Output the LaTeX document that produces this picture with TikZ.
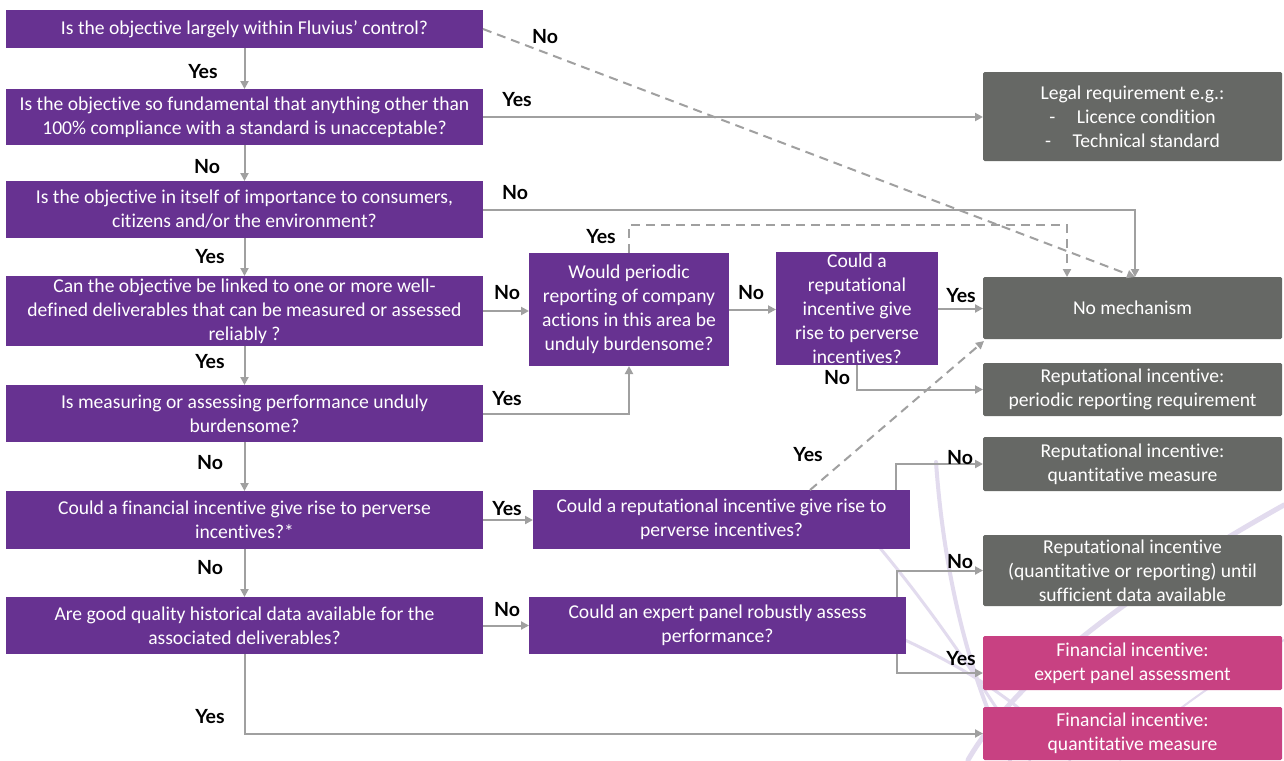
\documentclass[tikz,border=0pt]{standalone}
\usepackage{fontspec}
\setmainfont{Carlito}[Ligatures=NoCommon]
\newfontfamily\labfont{Lato}
\usetikzlibrary{arrows.meta,calc}
\definecolor{qpurple}{RGB}{103,50,145}
\definecolor{qgray}{RGB}{102,104,101}
\definecolor{qpink}{RGB}{200,65,130}
\definecolor{qline}{RGB}{160,160,160}
\definecolor{qlav}{RGB}{226,219,238}
\begin{document}
\begin{tikzpicture}[x=1pt,y=-1pt,
  box/.style={rectangle,inner sep=0pt,outer sep=0pt,text=white,align=center,
    font=\fontsize{19.6}{24}\selectfont},
  qbox/.style={box,fill=qpurple},
  gbox/.style={box,fill=qgray,rounded corners=1.5pt,minimum width=299pt},
  pbox/.style={box,fill=qpink,rounded corners=1.5pt,minimum width=299pt},
  lbox/.style={qbox,minimum width=477pt},
  conn/.style={draw=qline,line width=2pt,-{Triangle[length=8pt,width=8pt]}},
  dconn/.style={conn,dash pattern=on 9pt off 6pt},
  lab/.style={font=\labfont\fontsize{19.5}{21}\selectfont\bfseries,text=black,inner sep=0pt},
  swoosh/.style={draw=qlav,line cap=round}]
\useasboundingbox (0,0) rectangle (1284,760);
\fill[white] (0,0) rectangle (1284,760);
% background swooshes
\draw[swoosh,line width=4pt] (936,462) .. controls (945,590) and (975,690) .. (1010,760);
\draw[swoosh,line width=3pt] (880,548) .. controls (940,620) and (985,690) .. (1030,760);
\draw[swoosh,line width=5pt] (1284,505) .. controls (1150,580) and (1020,670) .. (968,760);
\draw[swoosh,line width=3pt] (905,640) .. controls (990,680) and (1040,720) .. (1070,760);
\draw[swoosh,line width=2pt] (1284,640) .. controls (1200,690) and (1150,730) .. (1120,760);
% left column
\node[lbox,minimum height=38pt] (b1) at (244.5,29) {Is the objective largely within Fluvius’ control?};
\node[lbox,minimum height=56pt] (b2) at (244.5,117) {Is the objective so fundamental that anything other than\\100\% compliance with a standard is unacceptable?};
\node[lbox,minimum height=57pt] (b3) at (244.5,209.5) {Is the objective in itself of importance to consumers,\\citizens and/or the environment?};
\node[lbox,minimum height=70pt] (b4) at (244.5,311) {Can the objective be linked to one or more well-\\defined deliverables that can be measured or assessed\\reliably ?};
\node[lbox,minimum height=57pt] (b5) at (244.5,413.5) {Is measuring or assessing performance unduly\\burdensome?};
\node[lbox,minimum height=58pt] (b6) at (244.5,520) {Could a financial incentive give rise to perverse\\incentives?*};
\node[lbox,minimum height=57pt] (b7) at (244.5,625.5) {Are good quality historical data available for the\\associated deliverables?};
% middle
\node[qbox,minimum width=200pt,minimum height=113pt] (m1) at (629,309.5) {Would periodic\\reporting of company\\actions in this area be\\unduly burdensome?};
\node[qbox,minimum width=162pt,minimum height=113pt] (m2) at (857,308.5) {Could a\\reputational\\incentive give\\rise to perverse\\incentives?};
\node[qbox,minimum width=377pt,minimum height=59pt] (m3) at (721.5,519.5) {Could a reputational incentive give rise to\\perverse incentives?};
\node[qbox,minimum width=377pt,minimum height=57pt] (m4) at (717.5,625.5) {Could an expert panel robustly assess\\performance?};
% right
\node[gbox,minimum height=89pt] (r1) at (1132.5,116.5) {Legal requirement e.g.:\\-\hspace{1.1em}Licence condition\\-\hspace{1.1em}Technical standard};
\node[gbox,minimum height=62pt] (r2) at (1132.5,308) {No mechanism};
\node[gbox,minimum height=53pt] (r3) at (1132.5,389.5) {Reputational incentive:\\periodic reporting requirement};
\node[gbox,minimum height=54pt] (r4) at (1132.5,464) {Reputational incentive:\\quantitative measure};
\node[gbox,minimum height=71pt] (r5) at (1132.5,570.5) {Reputational incentive\\(quantitative or reporting) until\\sufficient data available};
\node[pbox,minimum height=54pt] (r6) at (1132.5,663) {Financial incentive:\\expert panel assessment};
\node[pbox,minimum height=53pt] (r7) at (1132.5,733.5) {Financial incentive:\\quantitative measure};
% coordinates
\coordinate (b1e) at (b1.east);
\coordinate (m3d) at ($(m3.north west)+(277,0)$);
% connectors
\draw[conn] (b1) -- (b2);
\draw[conn] (b2) -- (b3);
\draw[conn] (b3) -- (b4);
\draw[conn] (b4) -- (b5);
\draw[conn] (b5) -- (b6);
\draw[conn] (b6) -- (b7);
\draw[dconn] (b1e) -- ($(r2.north)+(2.5,0)$);
\draw[conn] (b2.east) -- (b2.east -| r1.west);
\draw[conn] (b3.east) -- ($(b3.east -| r2.north)+(2.5,0)$) -- ($(r2.north)+(2.5,0)$);
\draw[conn] (b4.east) -- (b4.east -| m1.west);
\draw[dconn] (m1.north) -- ++(0,-28) -| ($(r2.north)+(-65.5,0)$);
\draw[conn] (b5.east) -| (m1.south);
\draw[conn] (m1.east) -- (m1.east -| m2.west);
\draw[conn] (m2.east) -- (m2.east -| r2.west);
\draw[conn] (m2.south) |- (r3.west);
\draw[conn] (b6.east) -- (b6.east -| m3.west);
\draw[dconn] (m3d) -- ($(r2.south west)+(1,2)$);
\draw[conn] ($(m3.north east)+(-14,0)$) |- (r4.west);
\draw[conn] (b7.east) -- (b7.east -| m4.west);
\draw[conn] ($(m4.north east)+(-9,0)$) |- (r5.west);
\draw[conn] ($(m4.south east)+(-9,0)$) |- ($(r6.west)+(0,10)$);
\draw[conn] (b7.south) |- (r7.west);
% labels
\node[lab] (l1) at (545,37) {No};
\node[lab] (l2) at (203,72) {Yes};
\node[lab] (l3) at (517,100) {Yes};
\node[lab] (l4) at (207,167) {No};
\node[lab] (l5) at (515,193) {No};
\node[lab] (l6) at (210,257) {Yes};
\node[lab] (l7) at (601,237) {Yes};
\node[lab] (l8) at (507,293) {No};
\node[lab] (l9) at (751,293) {No};
\node[lab] (l10) at (961,296) {Yes};
\node[lab] (l11) at (210,362) {Yes};
\node[lab] (l12) at (837,378) {No};
\node[lab] (l13) at (507,399) {Yes};
\node[lab] (l14) at (210,463) {No};
\node[lab] (l15) at (808,455) {Yes};
\node[lab] (l16) at (960,458) {No};
\node[lab] (l17) at (507,509) {Yes};
\node[lab] (l18) at (210,568) {No};
\node[lab] (l19) at (507,610) {No};
\node[lab] (l20) at (960,562) {No};
\node[lab] (l21) at (961,659) {Yes};
\node[lab] (l22) at (210,717) {Yes};
\end{tikzpicture}
\end{document}
